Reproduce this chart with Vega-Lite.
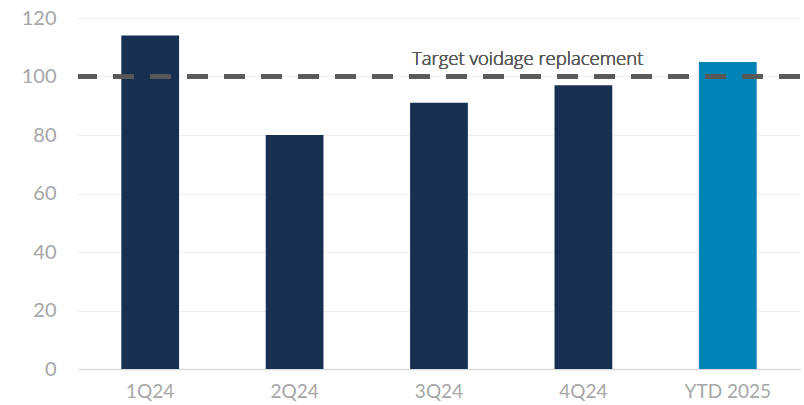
{
  "$schema": "https://vega.github.io/schema/vega-lite/v6.json",
  "width": 804,
  "height": 405,
  "autosize": {"type": "fit", "contains": "padding"},
  "padding": {"left": 21, "top": 8, "right": 2, "bottom": 4},
  "background": "white",
  "config": {
    "view": {"stroke": null},
    "font": "Lato"
  },
  "data": {
    "values": [
      {"period": "1Q24", "value": 114, "group": "q"},
      {"period": "2Q24", "value": 80, "group": "q"},
      {"period": "3Q24", "value": 91, "group": "q"},
      {"period": "4Q24", "value": 97, "group": "q"},
      {"period": "YTD 2025", "value": 105, "group": "ytd"}
    ]
  },
  "layer": [
    {
      "mark": {"type": "bar"},
      "encoding": {
        "x": {
          "field": "period",
          "type": "nominal",
          "sort": null,
          "scale": {"paddingInner": 0.6, "paddingOuter": 0.3},
          "axis": {
            "title": null,
            "labelAngle": 0,
            "labelFontSize": 19,
            "labelColor": "#A6A6A6",
            "labelPadding": 13,
            "ticks": false,
            "domainColor": "#D9D9D9",
            "domainWidth": 1.5
          }
        },
        "y": {
          "field": "value",
          "type": "quantitative",
          "scale": {"domain": [0, 120]},
          "axis": {
            "title": null,
            "values": [0, 20, 40, 60, 80, 100, 120],
            "labelFontSize": 20,
            "labelColor": "#A6A6A6",
            "labelPadding": 22,
            "ticks": false,
            "domain": false,
            "grid": true,
            "gridColor": "#EEEEEE",
            "gridWidth": 1
          }
        },
        "color": {
          "field": "group",
          "type": "nominal",
          "scale": {"domain": ["q", "ytd"], "range": ["#172F51", "#0084B6"]},
          "legend": null
        }
      }
    },
    {
      "mark": {"type": "rule", "color": "#595959", "strokeWidth": 4, "strokeDash": [21, 16]},
      "encoding": {"y": {"datum": 100}}
    },
    {
      "mark": {"type": "text", "text": "Target voidage replacement", "font": "Open Sans", "fontSize": 18.5, "fontWeight": 300, "color": "#595959", "align": "left", "baseline": "bottom", "dx": -27, "dy": -8},
      "encoding": {
        "x": {"datum": "3Q24"},
        "y": {"datum": 100}
      }
    }
  ]
}
